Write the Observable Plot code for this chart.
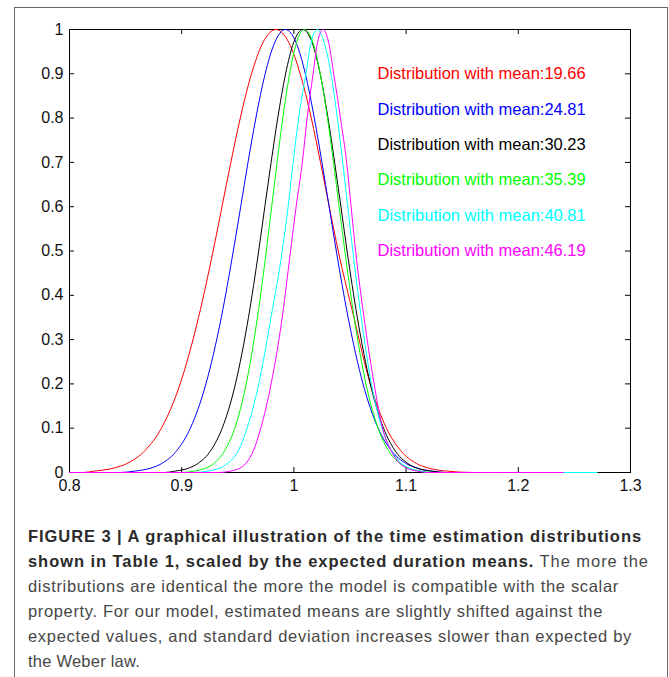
<!DOCTYPE html>
<html>
<head>
<meta charset="utf-8">
<script src="https://cdn.jsdelivr.net/npm/d3@7"></script>
<script src="https://cdn.jsdelivr.net/npm/@observablehq/plot@0.6"></script>
<style>
  body { margin: 0; background: #fff; }
  #wrap { position: relative; width: 669px; height: 677px; overflow: hidden; background: #fff; }
  #box { position: absolute; left: 14px; top: 7px; width: 654px; height: 720px; border: 1px solid #666; box-sizing: border-box; }
  #chart { position: absolute; left: 0; top: 0; }
  #caption { position: absolute; left: 28px; top: 523.5px; font-family: "Liberation Sans", Arial, Helvetica, sans-serif; font-size: 16.5px; line-height: 25px; color: #474747; }
  #caption .ln { white-space: nowrap; display: block; width: max-content; }
  #caption b { color: #2a2a2a; }
</style>
</head>
<body>
<div id="wrap">
  <div id="box"></div>
  <div id="chart"></div>
  <div id="caption">
    <span class="ln" data-w="614"><b>FIGURE 3 | A graphical illustration of the time estimation distributions</b></span>
    <span class="ln" data-w="621"><b>shown in Table 1, scaled by the expected duration means.</b> The more the</span>
    <span class="ln" data-w="591">distributions are identical the more the model is compatible with the scalar</span>
    <span class="ln" data-w="575">property. For our model, estimated means are slightly shifted against the</span>
    <span class="ln" data-w="604">expected values, and standard deviation increases slower than expected by</span>
    <span class="ln" data-w="112">the Weber law.</span>
  </div>
</div>
<script>
// ---- data ----
const seriesMeans = ["19.66", "24.81", "30.23", "35.39", "40.81", "46.19"];
const xTicks = [0.8, 0.9, 1, 1.1, 1.2, 1.3];
const yTicks = [0, 0.1, 0.2, 0.3, 0.4, 0.5, 0.6, 0.7, 0.8, 0.9, 1];

// heights at which each curve's x positions were read (left flank, peak, right flank)
const levelY = [0, 0, 0.003, 0.01, 0.02, 0.05, 0.10, 0.20, 0.35, 0.50, 0.60, 0.70, 0.80, 0.90, 0.97, 1.00,
                0.97, 0.90, 0.80, 0.70, 0.60, 0.50, 0.35, 0.20, 0.10, 0.05, 0.02, 0.01, 0.003, 0, 0];

const x1966 = [0.800, 0.812, 0.8217, 0.8395, 0.8509, 0.8675, 0.8819, 0.8986, 0.915, 0.928, 0.9359, 0.9438, 0.9522, 0.9622, 0.9723, 0.984,
               0.9956, 1.0056, 1.0155, 1.0237, 1.0315, 1.0395, 1.0535, 1.068, 1.0825, 1.095, 1.1095, 1.12, 1.137, 1.16, 1.25];
const x2481 = [0.800, 0.845, 0.8578, 0.8726, 0.882, 0.8958, 0.9077, 0.9216, 0.9353, 0.946, 0.9526, 0.9591, 0.9661, 0.9744, 0.9828, 0.9925,
               1.002, 1.0102, 1.0182, 1.025, 1.0314, 1.0378, 1.0483, 1.0616, 1.0751, 1.0867, 1.1002, 1.1093, 1.1237, 1.135, 1.25];
const x3023 = [0.800, 0.885, 0.8938, 0.9063, 0.9143, 0.926, 0.9361, 0.9479, 0.9595, 0.9686, 0.9741, 0.9797, 0.9856, 0.9926, 0.9997, 1.008,
               1.0163, 1.0234, 1.0304, 1.0363, 1.0419, 1.0474, 1.0565, 1.0681, 1.0799, 1.09, 1.1017, 1.1097, 1.1222, 1.135, 1.30];
const x3539 = [0.800, 0.900, 0.9106, 0.9215, 0.9284, 0.9385, 0.9473, 0.9575, 0.9675, 0.9754, 0.9802, 0.985, 0.9901, 0.9962, 1.0023, 1.0095,
               1.017, 1.0235, 1.0299, 1.0353, 1.0403, 1.0454, 1.0537, 1.0642, 1.075, 1.0842, 1.0948, 1.1021, 1.1135, 1.125, 1.27];
const x4081 = [0.800, 0.912, 0.923, 0.9339, 0.9407, 0.9506, 0.9583, 0.9687, 0.9796, 0.9896, 0.9948, 0.9993, 1.0042, 1.0107, 1.0153, 1.0207,
               1.027, 1.0331, 1.0387, 1.0435, 1.048, 1.0525, 1.06, 1.0691, 1.0786, 1.0868, 1.0962, 1.1026, 1.1127, 1.122, 1.27];
const x4619 = [0.800, 0.933, 0.943, 0.952, 0.957, 0.964, 0.9705, 0.9797, 0.9896, 0.997, 1.002, 1.0075, 1.0118, 1.0171, 1.021, 1.026,
               1.031, 1.0355, 1.0415, 1.047, 1.051, 1.055, 1.0625, 1.0715, 1.079, 1.0865, 1.0945, 1.1005, 1.11, 1.12, 1.24];

// ---- styles ----
const seriesColors = ["#ff0000", "#0000ff", "#000000", "#00ff00", "#00ffff", "#ff00ff"];

const seriesX = [x1966, x2481, x3023, x3539, x4081, x4619];
const rows = seriesX.flatMap((xs, i) => xs.map((x, j) => ({series: seriesMeans[i], x, y: levelY[j]})));

const W = 669, H = 500, mL = 69, mR = 39, mT = 29, mB = 28;
const tLenY = 5 / (H - mT - mB);
const tLenX = 5 * 0.5 / (W - mL - mR);
const fmt = d => String(+d.toFixed(1));

const chart = Plot.plot({
  width: W, height: H,
  marginLeft: mL, marginRight: mR, marginTop: mT, marginBottom: mB,
  x: {domain: [0.8, 1.3], label: null},
  y: {domain: [0, 1], label: null},
  color: {domain: seriesMeans, range: seriesColors},
  style: {fontFamily: '"Liberation Sans", Arial, Helvetica, sans-serif', fontSize: "16px", color: "#111", background: "transparent", overflow: "visible"},
  marks: [
    Plot.axisX(xTicks, {anchor: "bottom", tickSize: 0, tickPadding: 7, tickFormat: fmt, fontSize: 16, label: null}),
    Plot.axisY(yTicks, {anchor: "left", tickSize: 0, tickPadding: 6, tickFormat: fmt, fontSize: 16, label: null}),
    Plot.ruleX(xTicks, {x: d => d, y1: 0, y2: tLenY, stroke: "#000"}),
    Plot.ruleX(xTicks, {x: d => d, y1: 1 - tLenY, y2: 1, stroke: "#000"}),
    Plot.ruleY(yTicks, {y: d => d, x1: 0.8, x2: 0.8 + tLenX, stroke: "#000"}),
    Plot.ruleY(yTicks, {y: d => d, x1: 1.3 - tLenX, x2: 1.3, stroke: "#000"}),
    Plot.frame({stroke: "#000"}),
    Plot.line(rows, {x: "x", y: "y", z: "series", stroke: "series", strokeWidth: 1, curve: "monotone-x"}),
    Plot.text(seriesMeans, {
      x: () => 1.0745,
      y: (d, i) => 0.9 - 0.08 * i,
      text: d => "Distribution with mean:" + d,
      fill: d => d,
      textAnchor: "start",
      lineAnchor: "middle",
      fontSize: 16.5
    })
  ]
});
document.getElementById("chart").appendChild(chart);

// fit caption lines to the reference widths
document.querySelectorAll("#caption .ln").forEach(el => {
  const target = +el.dataset.w;
  const w = el.getBoundingClientRect().width;
  const n = el.textContent.length;
  if (n > 1) el.style.letterSpacing = ((target - w) / n) + "px";
});
</script>
</body>
</html>
